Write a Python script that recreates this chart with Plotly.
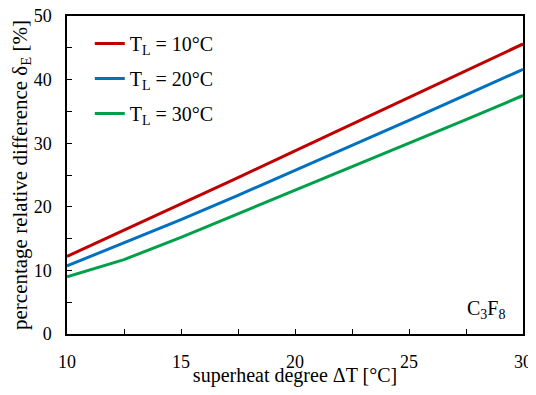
"""Percentage relative difference vs superheat degree for C3F8."""
import plotly.graph_objects as go

# superheat degree (°C)
superheat = [10, 12.5, 15, 17.5, 20, 22.5, 25, 27.5, 30]

# percentage relative difference per liquid temperature
delta_tl10 = [12.2, 16.3, 20.4, 24.6, 28.8, 33.0, 37.2, 41.4, 45.6]
delta_tl20 = [10.7, 14.3, 18.0, 21.8, 25.7, 29.6, 33.6, 37.6, 41.6]
delta_tl30 = [9.0, 11.7, 15.2, 18.9, 22.5, 26.3, 29.9, 33.7, 37.5]

series_names = ["T<sub>L</sub> = 10°C", "T<sub>L</sub> = 20°C", "T<sub>L</sub> = 30°C"]
colors = ["#C00000", "#0070C0", "#00A04A"]

FONT = "Palatino Linotype, Book Antiqua, Liberation Serif, serif"

fig = go.Figure()
for i, (name, vals, col) in enumerate(zip(series_names, [delta_tl10, delta_tl20, delta_tl30], colors)):
    fig.add_trace(
        go.Scatter(
            x=superheat,
            y=vals,
            mode="lines",
            name=name,
            legendgroup=f"g{i}",
            line=dict(color=col, width=3),
        )
    )

axis_common = dict(
    showgrid=False,
    zeroline=False,
    showline=True,
    linecolor="black",
    linewidth=1.5,
    mirror=True,
    ticks="inside",
    ticklen=5,
    tickcolor="black",
    automargin=False,
    ticklabeloverflow="allow",
    tickfont=dict(family=FONT, size=18, color="black"),
)

# the page body adds an 8px margin, so the figure is sized to fit the window
fig.update_layout(
    width=528,
    height=379,
    plot_bgcolor="white",
    paper_bgcolor="white",
    margin=dict(l=59, r=13, t=8, b=53),
    font=dict(family=FONT, color="black"),
    xaxis=dict(
        range=[10, 30],
        dtick=5,
        minor=dict(dtick=2.5, ticks="inside", ticklen=5, tickcolor="black"),
        ticklabelstandoff=11,
        title=dict(text="superheat degree ΔT [°C]", font=dict(family=FONT, size=20), standoff=0),
        **axis_common,
    ),
    yaxis=dict(
        range=[0, 50],
        dtick=10,
        minor=dict(dtick=5, ticks="inside", ticklen=5, tickcolor="black"),
        ticklabelstandoff=10,
        title=dict(
            text="percentage relative difference δ<sub>E</sub> [%]",
            font=dict(family=FONT, size=21),
            standoff=4,
        ),
        **axis_common,
    ),
    legend=dict(
        x=0.05,
        y=0.975,
        xanchor="left",
        yanchor="top",
        bgcolor="rgba(0,0,0,0)",
        font=dict(family=FONT, size=20),
        traceorder="grouped",
        tracegroupgap=6,
    ),
    showlegend=True,
)

fig.add_annotation(
    x=29.3,
    y=1.5,
    xref="x",
    yref="y",
    text="C<sub>3</sub>F<sub>8</sub>",
    showarrow=False,
    xanchor="right",
    yanchor="bottom",
    font=dict(family=FONT, size=20, color="black"),
)

fig.write_html("out.html")
